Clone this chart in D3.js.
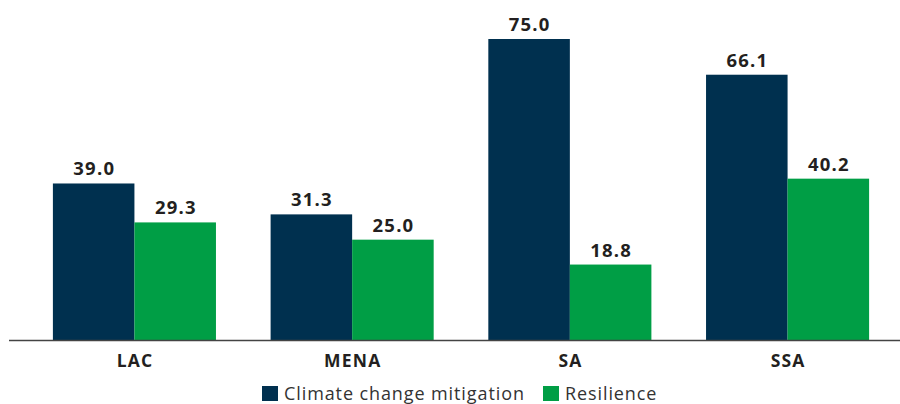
<!DOCTYPE html>
<html><head><meta charset="utf-8">
<script src="https://cdn.jsdelivr.net/npm/d3@7"></script>
<style>body{margin:0;background:#fff}svg{display:block}text{font-family:"Open Sans",sans-serif;fill:#231f20}</style>
</head><body><svg id="c" width="900" height="404"></svg>
<script>
const categories = ["LAC","MENA","SA","SSA"];
const seriesNames = ["Climate change mitigation","Resilience"];
const mitigation = [39.0,31.3,75.0,66.1];
const resilience = [29.3,25.0,18.8,40.2];
const colors = ["#00304f","#009e45"];

const svg = d3.select("#c");
const data = categories.map((c,i)=>({cat:c, vals:[mitigation[i],resilience[i]]}));
const x0 = d3.scaleBand().domain(categories).range([53-0.251*217.7/2, 869+0.251*217.7/2]).paddingInner(0.251).paddingOuter(0.125);
const x1 = d3.scaleBand().domain(seriesNames).range([0,x0.bandwidth()]);
const y = d3.scaleLinear().domain([0,75]).range([340,39]);

const g = svg.selectAll("g.grp").data(data).join("g").attr("transform",d=>`translate(${x0(d.cat)},0)`);
g.selectAll("rect").data(d=>d.vals.map((v,i)=>({v,s:seriesNames[i],i}))).join("rect")
  .attr("x",d=>x1(d.s)).attr("width",x1.bandwidth()).attr("y",d=>y(d.v)).attr("height",d=>y(0)-y(d.v)).attr("fill",d=>colors[d.i]);
g.selectAll("text.val").data(d=>d.vals.map((v,i)=>({v,s:seriesNames[i]}))).join("text").attr("class","val")
  .attr("x",d=>x1(d.s)+x1.bandwidth()/2+0.6).attr("y",d=>y(d.v)-8).attr("text-anchor","middle")
  .style("font-size","18.5px").style("font-weight","700").style("letter-spacing","1.2px").text(d=>d.v.toFixed(1));

svg.append("line").attr("x1",9).attr("x2",900).attr("y1",340.5).attr("y2",340.5).attr("stroke","#444").attr("stroke-width",1.3);
svg.selectAll("text.cat").data(categories).join("text").attr("class","cat")
  .attr("x",d=>x0(d)+x0.bandwidth()/2+0.6).attr("y",367).attr("text-anchor","middle")
  .style("font-size","17.5px").style("font-weight","700").style("letter-spacing","1.2px").text(d=>d);

const lx = [262,543];
const lg = svg.selectAll("g.leg").data(seriesNames).join("g").attr("transform",(d,i)=>`translate(${lx[i]},386)`);
lg.append("rect").attr("width",16).attr("height",15).attr("fill",(d,i)=>colors[i]);
lg.append("text").attr("x",22).attr("y",14).style("font-size","18px").style("letter-spacing","0.9px").style("fill","#333").text(d=>d);
</script></body></html>
